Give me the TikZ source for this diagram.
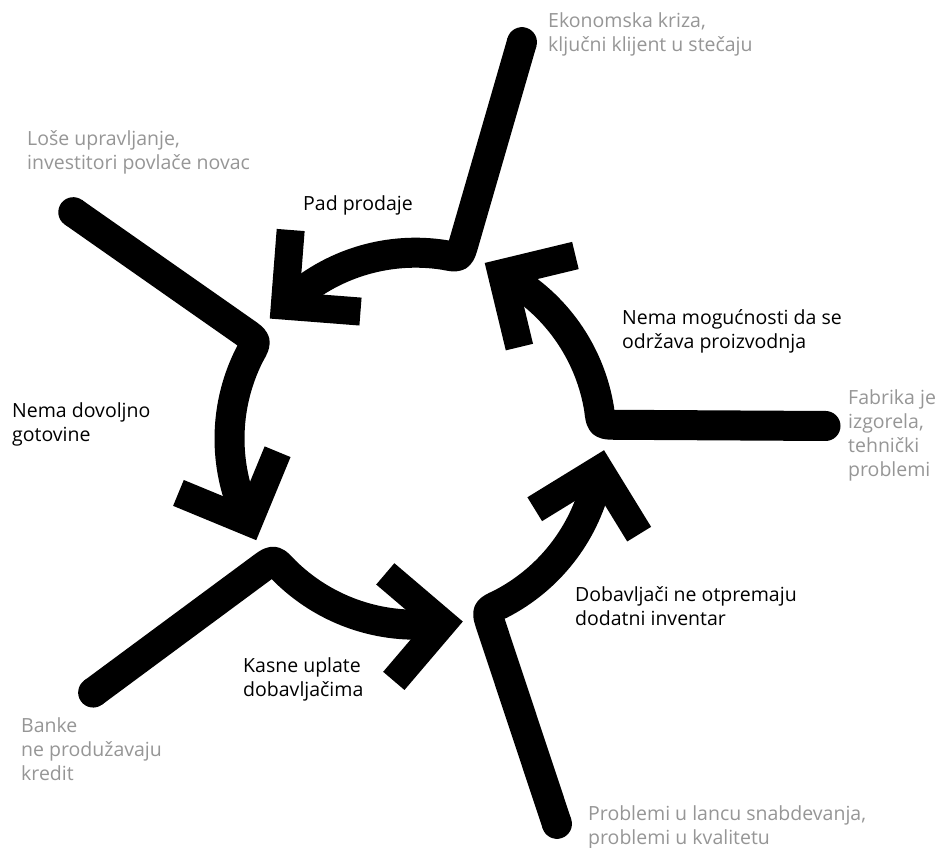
\documentclass[tikz,border=0pt]{standalone}
\usepackage{fontspec}
\setmainfont{Open Sans}
\usetikzlibrary{calc}
\definecolor{lblgray}{RGB}{150,150,150}
\begin{document}
\begin{tikzpicture}[x=1pt,y=1pt,
  blk/.style={font=\fontsize{19.5}{24}\selectfont, text=black, inner sep=0pt, anchor=base west, align=left},
  gry/.style={blk, text=lblgray},
  shaft/.style={line width=30pt, line cap=butt, line join=round},
  head/.style={line width=28pt, line cap=butt, line join=miter},
]
\fill[white] (0,0) rectangle (942,848);
\useasboundingbox (0,0) rectangle (942,848);
\coordinate (C) at (415.5,409.3);
\foreach \k/\ey in {0/12.7,1/21.3,2/17.9,3/15.9,4/15.5} {
  \begin{scope}[shift={(C)}, rotate=72*\k]
    \coordinate (E\k) at (410,\ey);
    \coordinate (K\k) at (185.5,14);
    \coordinate (F\k) at ($(K\k)!16pt!(E\k)$);
    \coordinate (G\k) at (9.25:186);
    \coordinate (V\k) at (86.1,165.4);
    \coordinate (A\k) at (159.9,183.2);
    \coordinate (B\k) at (103.9,91.6);
    \draw[shaft] (E\k) -- (F\k) .. controls (K\k) .. (G\k) arc[start angle=9.25, end angle=58.5, radius=186] -- (V\k);
    \fill (E\k) circle[radius=15];
    \draw[head] (A\k) -- (V\k) -- (B\k);
  \end{scope}
}
% multi-line nodes: base anchor = baseline of last line
\node[gry] (t1) at (548,796) {Ekonomska kriza,\\ključni klijent u stečaju};
\node[gry] (t2) at (27,678) {Loše upravljanje,\\investitori povlače novac};
\node[gry] (t3) at (848,371) {Fabrika je\\izgorela,\\tehnički\\problemi};
\node[gry] (t4) at (21,67) {Banke\\ne produžavaju\\kredit};
\node[gry] (t5) at (588,3) {Problemi u lancu snabdevanja,\\problemi u kvalitetu};
\node[blk] (b1) at (303,637) {Pad prodaje};
\node[blk] (b2) at (622,499) {Nema mogućnosti da se\\održava proizvodnja};
\node[blk] (b3) at (12,406) {Nema dovoljno\\gotovine};
\node[blk] (b4) at (243,151) {Kasne uplate\\dobavljačima};
\node[blk] (b5) at (575,222) {Dobavljači ne otpremaju\\dodatni inventar};
\end{tikzpicture}
\end{document}
